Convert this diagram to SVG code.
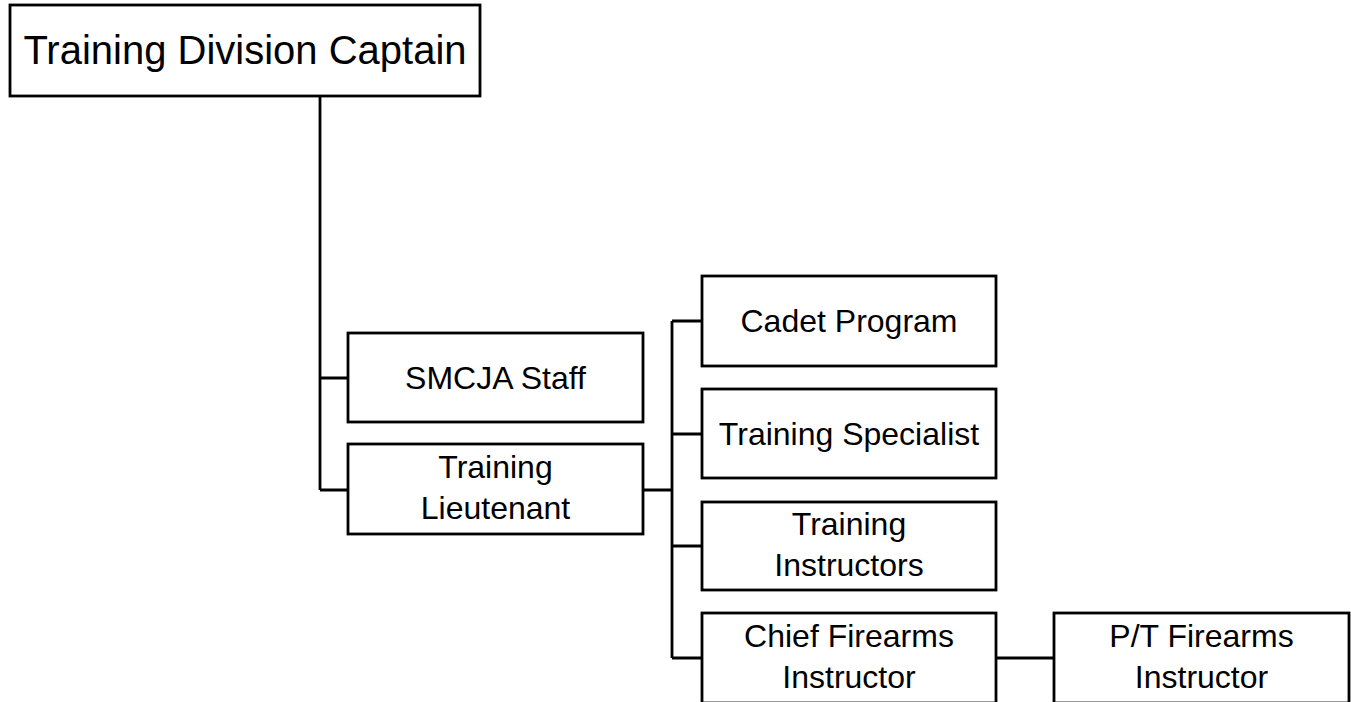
<svg xmlns="http://www.w3.org/2000/svg" width="1351" height="702" viewBox="0 0 1351 702">
<style>
.box{fill:#fff;stroke:#000;stroke-width:2.8}
.ln{fill:none;stroke:#000;stroke-width:2.8}
text{font-family:"Liberation Sans",Arial,sans-serif;font-size:32px;fill:#000;text-anchor:middle}
.big{font-size:40px}
</style>
<rect width="1351" height="702" fill="#fff"/>
<g id="connectors">
<path class="ln" d="M320,96 V490 M320,378 H348 M320,490 H348"/>
<path class="ln" d="M643,490 H672 M672,321 V658 M672,321 H702 M672,434 H702 M672,546 H702 M672,658 H702"/>
<path class="ln" d="M996,658 H1054"/>
</g>
<g id="captain">
<rect class="box" x="10" y="5" width="470" height="91"/>
<text class="big" x="245" y="64">Training Division Captain</text>
</g>
<g id="smcja">
<rect class="box" x="348" y="333" width="295" height="89"/>
<text x="495.5" y="389">SMCJA Staff</text>
</g>
<g id="lieutenant">
<rect class="box" x="348" y="444" width="295" height="90"/>
<text x="495.5" y="478">Training</text>
<text x="495.5" y="519">Lieutenant</text>
</g>
<g id="cadet">
<rect class="box" x="702" y="276" width="294" height="90"/>
<text x="849" y="332">Cadet Program</text>
</g>
<g id="specialist">
<rect class="box" x="702" y="389" width="294" height="89"/>
<text x="849" y="445">Training Specialist</text>
</g>
<g id="instructors">
<rect class="box" x="702" y="502" width="294" height="88"/>
<text x="849" y="535">Training</text>
<text x="849" y="576">Instructors</text>
</g>
<g id="chief">
<rect class="box" x="702" y="613" width="294" height="90"/>
<text x="849" y="647">Chief Firearms</text>
<text x="849" y="688">Instructor</text>
</g>
<g id="pt">
<rect class="box" x="1054" y="613" width="295" height="90"/>
<text x="1201.5" y="647">P/T Firearms</text>
<text x="1201.5" y="688">Instructor</text>
</g>
</svg>
